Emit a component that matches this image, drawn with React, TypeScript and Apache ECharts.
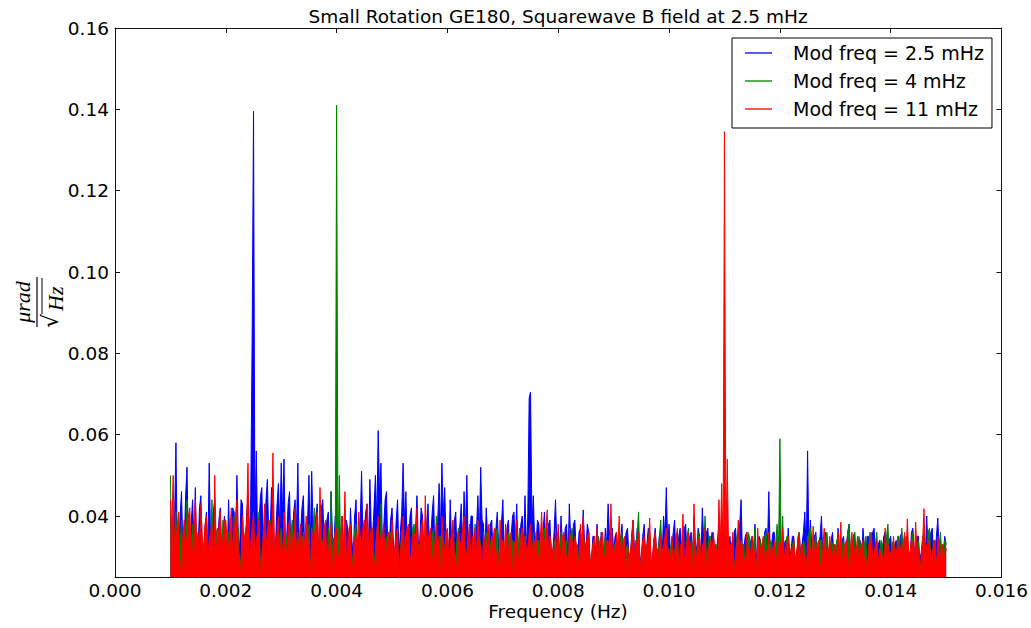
import React, { useEffect, useRef } from "react";
import * as echarts from "echarts";

// Spectral amplitude in units of 1e-3 µrad/√Hz, one value every 0.025 mHz from 1.000 mHz to 15.000 mHz
const blueMilli = [
  43, 30, 34, 39, 58, 29, 31, 40, 46, 32, 33, 45, 52, 31, 30, 38, 44, 33, 47, 30, 32, 42, 45, 29, 29, 37, 41, 30, 53, 34, 31, 41, 44, 28, 30, 39, 42, 31, 36, 40,
  33, 29, 44, 32, 30, 42, 41, 31, 50, 35, 32, 44, 43, 30, 31, 40, 45, 34, 45, 83, 139.5, 38, 56, 33, 38, 45, 47, 31, 33, 44, 49, 35, 36, 47, 46, 32, 34, 43, 48, 36,
  53, 40, 54, 33, 35, 43, 46, 30, 33, 41, 44, 36, 53, 31, 36, 42, 45, 30, 32, 38, 50, 33, 51, 37, 34, 40, 43, 29, 31, 42, 44, 33, 35, 39, 41, 30, 46, 35, 33, 40,
  38, 30, 31, 36, 40, 29, 32, 39, 37, 31, 42, 34, 30, 40, 44, 32, 33, 38, 51, 34, 36, 41, 43, 30, 49, 37, 35, 42, 50, 38, 61, 45, 53, 33, 37, 44, 46, 31, 33, 39,
  42, 33, 31, 39, 44, 30, 36, 41, 53, 38, 46, 31, 33, 40, 42, 29, 30, 37, 45, 33, 34, 42, 40, 30, 31, 38, 43, 32, 35, 41, 45, 30, 32, 39, 48, 36, 53, 40, 47, 34,
  35, 30, 44, 33, 32, 39, 41, 29, 35, 38, 43, 31, 46, 36, 50, 32, 33, 40, 40, 30, 31, 37, 45, 34, 52, 39, 38, 30, 42, 35, 31, 38, 39, 29, 33, 37, 41, 32, 30, 38,
  44, 30, 32, 37, 39, 31, 35, 40, 41, 33, 43, 30, 31, 38, 40, 32, 45, 31, 40, 69, 70.5, 38, 45, 33, 33, 39, 38, 30, 30, 36, 41, 32, 34, 38, 39, 29, 31, 36, 44, 33,
  36, 30, 40, 33, 31, 37, 38, 29, 43, 34, 33, 38, 39, 30, 30, 36, 37, 31, 41.5, 33, 32, 38, 36, 29, 29, 35, 35, 31, 38, 30, 31, 36, 34, 29, 37, 33, 43, 35, 33, 37,
  31, 35, 36, 29, 30, 34, 38, 31, 33, 36, 37, 30, 29, 35, 39, 32, 32, 37, 36, 29, 30, 35, 38, 31, 33, 37, 35, 29, 29, 34, 37, 31, 31, 35, 36, 30, 40, 35, 47, 33,
  38, 30, 32, 36, 39, 29, 30, 35, 37, 31, 33, 37, 38, 29, 31, 35, 36, 30, 40, 33, 32, 37, 35, 29, 42, 34, 31, 36, 37, 30, 33, 36, 35, 29, 30, 34, 38, 31, 33, 36,
  37, 30, 31, 34, 35, 29, 30, 36, 37, 31, 33, 38, 44, 30, 32, 35, 36, 29, 30, 34, 35, 31, 38, 30, 31, 35, 34, 29, 30, 36, 37, 32, 46, 31, 33, 36, 36, 29, 31, 35,
  35, 29, 30, 33, 34, 30, 37, 31, 31, 35, 35, 29, 29, 34, 36, 30, 33, 36, 41, 30, 56, 31, 39, 33, 30, 35, 36, 29, 32, 35, 40, 30, 31, 36, 35, 29, 30, 34, 36, 30,
  32, 29, 37, 31, 30, 34, 35, 29, 33, 36, 38, 30, 29, 35, 36, 30, 31, 34, 34, 29, 37, 32, 30, 35, 35, 29, 32, 36, 37, 30, 29, 33, 34, 30, 31, 35, 36, 29, 30, 34,
  35, 29, 31, 33, 34, 30, 29, 35, 36, 30, 32, 34, 35, 29, 30, 36, 37, 31, 33, 35, 35, 29, 31, 34, 36, 30, 40, 31, 32, 36, 37, 29, 30, 35, 39.5, 31, 34, 30, 31, 35,
  33,
];

const greenMilli = [
  50, 28, 30, 35, 41, 26, 27, 33, 39, 29, 31, 37, 44, 27, 28, 34, 38, 30, 33, 26, 26, 35, 40, 28, 30, 33, 36, 25, 27, 31, 44, 29, 32, 36, 37, 27, 26, 32, 39, 28,
  29, 34, 36, 26, 27, 32, 40, 28, 33, 37, 26, 30, 38, 27, 31, 35, 35, 26, 27, 33, 37, 29, 30, 36, 41, 27, 28, 33, 36, 29, 32, 38, 39, 26, 27, 32, 34, 28, 30, 35,
  37, 27, 28, 34, 35, 26, 31, 36, 39, 28, 26, 33, 36, 27, 30, 35, 34, 26, 27, 32, 38, 28, 31, 37, 42, 27, 29, 34, 36, 26, 33, 38, 28, 30, 37, 27, 46, 30, 34, 28,
  141, 30, 50, 27, 33, 31, 37, 26, 28, 34, 35, 28, 31, 36, 38, 27, 27, 33, 34, 29, 30, 35, 36, 26, 28, 32, 35, 28, 32, 36, 39, 27, 43, 30, 29, 34, 35, 27, 30, 36,
  36, 27, 28, 33, 34, 26, 31, 36, 37, 28, 27, 32, 35, 27, 30, 37, 38, 28, 29, 33, 33, 26, 36, 30, 27, 34, 35, 27, 31, 35, 37, 28, 40, 29, 29, 35, 34, 27, 32, 36,
  35, 27, 28, 34, 33, 26, 30, 35, 37, 28, 27, 33, 36, 27, 31, 36, 34, 28, 28, 32, 38, 27, 30, 35, 33, 26, 27, 34, 36, 28, 31, 33, 35, 27, 29, 36, 37, 28, 30, 34,
  34, 27, 28, 35, 36, 28, 31, 34, 33, 26, 27, 32, 37, 28, 30, 35, 35, 27, 29, 33, 33, 28, 36, 27, 28, 34, 34, 26, 31, 36, 37, 28, 29, 33, 35, 27, 27, 34, 34, 28,
  31, 27, 36, 29, 28, 33, 34, 26, 30, 35, 37, 28, 27, 32, 33, 27, 35, 29, 29, 34, 32, 27, 36, 28, 28, 33, 34, 26, 31, 35, 33, 27, 27, 32, 35, 28, 30, 34, 36, 27,
  29, 33, 34, 27, 31, 35, 36, 28, 28, 32, 33, 26, 30, 34, 37, 28, 32, 36, 41, 28, 29, 33, 34, 27, 31, 35, 36, 28, 28, 32, 33, 27, 30, 35, 39, 28, 32, 34, 35, 27,
  28, 32, 34, 27, 31, 35, 36, 28, 29, 33, 33, 27, 30, 35, 37, 28, 28, 33, 35, 27, 31, 36, 34, 28, 29, 33, 40, 29, 32, 35, 35, 27, 28, 33, 33, 28, 30, 34, 36, 27,
  31, 27, 35, 29, 28, 33, 34, 27, 30, 35, 36, 28, 29, 33, 33, 27, 31, 36, 35, 28, 28, 32, 37, 27, 30, 34, 34, 28, 29, 35, 36, 27, 31, 34, 33, 28, 28, 33, 38, 30,
  59, 30, 40, 28, 31, 35, 35, 27, 28, 33, 34, 28, 30, 35, 36, 27, 29, 34, 33, 28, 31, 36, 37, 27, 28, 33, 35, 28, 30, 34, 34, 27, 29, 35, 36, 28, 31, 34, 33, 27,
  30, 34, 35, 27, 28, 33, 34, 28, 31, 36, 38, 28, 29, 34, 36, 27, 30, 35, 33, 28, 28, 33, 35, 27, 31, 36, 34, 28, 29, 33, 36, 27, 30, 34, 33, 28, 28, 35, 38, 29,
  30, 33, 34, 27, 29, 35, 35, 28, 37, 30, 31, 35, 33, 27, 28, 34, 36, 28, 30, 33, 34, 27, 29, 35, 35, 28, 31, 36, 37, 28, 30, 34, 34, 27, 29, 33, 36, 28, 30, 34,
  33,
];

const redMilli = [
  44, 36, 50, 30, 33, 38, 41, 24, 30, 35, 39, 31, 35, 40, 42, 29, 31, 37, 44, 33, 36, 22, 43, 35, 32, 38, 40, 30, 34, 36, 38, 25, 50, 33, 31, 37, 41, 30, 35, 39,
  39, 33, 32, 37, 42, 28, 35, 40, 44, 31, 30, 23, 40, 34, 36, 38, 53, 30, 33, 37, 41, 29, 34, 36, 39, 24, 31, 35, 43, 32, 36, 39, 38, 30, 55.5, 33, 32, 36, 40, 26,
  35, 30, 41, 34, 30, 37, 39, 25, 34, 36, 42, 31, 31, 35, 38, 29, 36, 33, 40, 37, 29, 23, 37, 33, 35, 38, 41, 30, 47, 34, 33, 37, 39, 28, 30, 35, 38, 24, 34, 36,
  37, 29, 31, 35, 40, 32, 46, 30, 33, 37, 38, 24, 30, 34, 36, 31, 41, 35, 32, 37, 39, 28, 43, 33, 34, 37, 37, 25, 30, 36, 40, 31, 35, 34, 38, 29, 31, 36, 36, 32,
  39, 30, 32, 36, 37, 24, 30, 35, 40, 31, 35, 37, 38, 28, 31, 35, 36, 32, 42, 30, 33, 37, 39, 26, 45, 33, 34, 36, 37, 29, 30, 34, 38, 31, 35, 23, 40, 34, 31, 36,
  37, 29, 33, 36, 39, 31, 30, 25, 36, 33, 34, 37, 40, 30, 31, 35, 38, 27, 35, 33, 37, 30, 39, 34, 32, 24, 36, 33, 30, 36, 38, 29, 34, 35, 37, 31, 31, 26, 39, 33,
  34, 30, 38, 33, 31, 35, 36, 24, 33, 34, 39, 30, 30, 35, 37, 28, 35, 32, 32, 36, 38, 29, 34, 33, 36, 25, 30, 34, 41, 31, 33, 36, 41.5, 30, 35, 33, 31, 23, 37, 32,
  38, 29, 32, 35, 36, 31, 30, 24, 37, 33, 34, 30, 35, 33, 31, 26, 38, 32, 40, 30, 33, 35, 36, 28, 30, 33, 35, 25, 37, 32, 32, 35, 36, 29, 31, 34, 34, 30, 43, 31,
  33, 29, 36, 32, 40, 30, 31, 34, 35, 24, 33, 31, 30, 35, 39, 29, 34, 32, 36, 25, 31, 34, 35, 30, 33, 32, 39.5, 28, 30, 34, 36, 31, 32, 24, 35, 32, 31, 35, 37, 29,
  32, 28, 35, 31, 30, 34, 37, 25, 33, 32, 40.5, 29, 31, 34, 36, 30, 34, 24, 43, 31, 30, 34, 35, 28, 33, 31, 37, 26, 31, 33, 34, 30, 36, 32, 32, 29, 44, 33, 48, 30,
  134.5, 32, 54, 30, 33, 31, 36, 24, 31, 33, 39, 30, 34, 32, 30, 26, 36, 31, 33, 29, 35, 32, 31, 24, 37, 30, 32, 33, 35, 28, 30, 32, 36, 29, 33, 31, 34, 25, 31, 33,
  34, 29, 37, 31, 30, 33, 35, 26, 32, 31, 34, 29, 31, 33, 36, 28, 33, 31, 30, 24, 35, 31, 32, 29, 37.5, 30, 31, 33, 34, 25, 30, 32, 37, 29, 32, 31, 35, 28, 30, 33,
  33, 29, 36, 31, 38.5, 28, 31, 33, 34, 24, 30, 32, 36, 29, 32, 31, 35, 27, 31, 33, 34, 29, 30, 25, 33, 31, 36, 29, 31, 33, 34, 28, 32, 31, 30, 24, 37, 30, 33, 31,
  31, 28, 35, 31, 32, 25, 34, 32, 30, 33, 36, 29, 39.3, 31, 31, 34, 33, 27, 38.5, 31, 32, 24, 30, 33, 41.8, 30, 33, 31, 35, 28, 31, 33, 34, 26, 35, 31, 30, 33, 33, 29,
  32,
];

const freqStartHz = 0.001;
const freqStepHz = 0.000025;

const seriesNames = ["Mod freq = 2.5 mHz", "Mod freq = 4 mHz", "Mod freq = 11 mHz"];
const seriesColors = ["#0000ff", "#008000", "#ff0000"];
const yTickValues = [0.04, 0.06, 0.08, 0.1, 0.12, 0.14, 0.16];

const titleText = "Small Rotation GE180, Squarewave B field at 2.5 mHz";
const xAxisTitle = "Frequency (Hz)";

const FONT = '"DejaVu Sans"';

export default function App() {
  const ref = useRef<HTMLDivElement>(null);

  useEffect(() => {
    if (!ref.current) return;
    const chart = echarts.init(ref.current, null, { renderer: "svg" });
    const toPairs = (vals: number[]) =>
      vals.map((v, i) => [freqStartHz + i * freqStepHz, v / 1000]);
    const allValues = [blueMilli, greenMilli, redMilli];

    const axisLineStyle = { color: "#111", width: 1 };
    const tickCommon = { show: true, inside: true, length: 5, lineStyle: { color: "#111", width: 1 } };

    const option: any = {
      animation: false,
      backgroundColor: "#ffffff",
      grid: { left: 115, right: 29, top: 28, bottom: 51, containLabel: false },
      xAxis: [
        {
          type: "value",
          position: "bottom",
          min: 0,
          max: 0.016,
          interval: 0.002,
          axisLine: { show: true, onZero: false, lineStyle: axisLineStyle },
          axisTick: tickCommon,
          splitLine: { show: false },
          axisLabel: {
            show: true,
            showMinLabel: true,
            showMaxLabel: true,
            formatter: (v: number) => v.toFixed(3),
            fontSize: 18.5,
            fontFamily: FONT,
            color: "#000",
            margin: 4,
          },
        },
        {
          type: "value",
          position: "top",
          min: 0,
          max: 0.016,
          interval: 0.002,
          axisLine: { show: true, onZero: false, lineStyle: axisLineStyle },
          axisTick: tickCommon,
          splitLine: { show: false },
          axisLabel: { show: false },
        },
      ],
      yAxis: [
        {
          type: "value",
          position: "left",
          min: 0.025,
          max: 0.16,
          axisLine: { show: true, onZero: false, lineStyle: axisLineStyle },
          axisTick: { ...tickCommon, customValues: yTickValues },
          splitLine: { show: false },
          axisLabel: {
            show: true,
            customValues: yTickValues,
            formatter: (v: number) => v.toFixed(2),
            fontSize: 18.5,
            fontFamily: FONT,
            color: "#000",
            margin: 6,
          },
        },
        {
          type: "value",
          position: "right",
          min: 0.025,
          max: 0.16,
          axisLine: { show: true, onZero: false, lineStyle: axisLineStyle },
          axisTick: { ...tickCommon, customValues: yTickValues },
          splitLine: { show: false },
          axisLabel: { show: false },
        },
      ],
      legend: {
        show: true,
        data: seriesNames.map((n) => ({ name: n, icon: "rect" })),
        orient: "vertical",
        left: 732,
        top: 38,
        itemWidth: 27,
        itemHeight: 1.3,
        itemGap: 8,
        padding: [5, 8, 9, 13],
        borderColor: "#000",
        borderWidth: 1,
        borderRadius: 0,
        backgroundColor: "#fff",
        selectedMode: false,
        itemStyle: { borderWidth: 0 },
        textStyle: {
          fontSize: 19,
          fontFamily: FONT,
          color: "#000",
          lineHeight: 20,
          padding: [0, 0, 0, 16],
        },
      },
      series: allValues.map((vals, k) => ({
        name: seriesNames[k],
        type: "line",
        xAxisIndex: 0,
        yAxisIndex: 0,
        data: toPairs(vals),
        symbol: "none",
        showSymbol: false,
        silent: true,
        clip: true,
        lineStyle: { color: seriesColors[k], width: 1 },
        itemStyle: { color: seriesColors[k] },
        areaStyle: { color: seriesColors[k], opacity: 1, origin: "start" },
        emphasis: { disabled: true },
        z: 2 + k,
      })),
      graphic: [
        {
          type: "text",
          x: 558,
          y: 16,
          style: {
            text: titleText,
            font: `18.5px ${FONT}`,
            fill: "#000",
            align: "center",
            verticalAlign: "middle",
          },
        },
        {
          type: "text",
          x: 558,
          y: 611,
          style: {
            text: xAxisTitle,
            font: `18.5px ${FONT}`,
            fill: "#000",
            align: "center",
            verticalAlign: "middle",
          },
        },
        {
          type: "group",
          x: 37,
          y: 302,
          rotation: Math.PI / 2,
          children: [
            { type: "line", shape: { x1: -25, y1: 0, x2: 25, y2: 0 }, style: { stroke: "#000", lineWidth: 1.2 } },
            {
              type: "text",
              x: 0,
              y: -4,
              style: { text: "μrad", font: 'italic 22px "Liberation Serif"', fill: "#000", align: "center", verticalAlign: "bottom" },
            },
            {
              type: "text",
              x: -26,
              y: 2,
              style: { text: "√", font: '22px "DejaVu Serif"', fill: "#000", align: "left", verticalAlign: "top" },
            },
            { type: "line", shape: { x1: -12, y1: 5, x2: 24, y2: 5 }, style: { stroke: "#000", lineWidth: 1 } },
            {
              type: "text",
              x: -9,
              y: 7,
              style: { text: "Hz", font: 'italic 22px "Liberation Serif"', fill: "#000", align: "left", verticalAlign: "top" },
            },
          ],
        },
      ],
    };

    chart.setOption(option);
    return () => chart.dispose();
  }, []);

  return (
    <div
      ref={ref}
      style={{ position: "absolute", left: 0, top: 0, width: 1031, height: 628, background: "#fff" }}
    />
  );
}
